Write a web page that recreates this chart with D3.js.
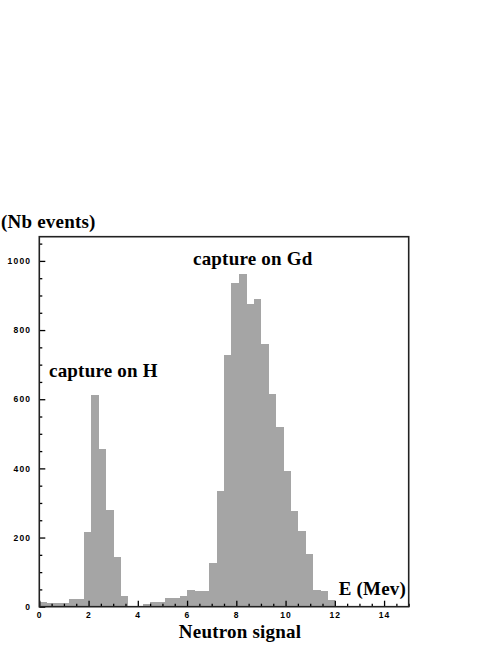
<!DOCTYPE html>
<html>
<head>
<meta charset="utf-8">
<script src="https://cdn.jsdelivr.net/npm/d3@7"></script>
<style>
  html, body { margin: 0; padding: 0; background: #fff; }
  svg { display: block; }
  .tick text { font-family: "Liberation Sans", Arial, sans-serif; font-weight: bold; font-size: 8.5px; letter-spacing: 1.2px; fill: #000; }
  .lbl { font-family: "Liberation Serif", "Times New Roman", serif; font-weight: bold; font-size: 19px; letter-spacing: 0.2px; fill: #000; }
</style>
</head>
<body>
<svg id="chart" width="498" height="645"></svg>
<script>
/* ── Data ─────────────────────────────────────────────────────────────── */
const BIN_WIDTH = 0.3;   // MeV per bin, bins start at 0
const counts = [
  15, 11, 11, 12, 21, 21, 216, 612, 456, 280,
  143, 31, 3, 0, 7, 14, 14, 24, 24, 31,
  48, 44, 46, 127, 335, 727, 937, 962, 875, 891,
  760, 614, 521, 393, 276, 218, 152, 48, 44, 19,
  0, 0, 0, 0, 0, 0, 0, 0, 0, 0
];
const xMajorTicks = [0, 2, 4, 6, 8, 10, 12, 14];
const yMajorTicks = [0, 200, 400, 600, 800, 1000];
const annotations = [
  { text: 'capture on Gd', x: 193, y: 265 },
  { text: 'capture on H',  x: 49,  y: 377 }
];

const GREY = '#a5a5a5';

/* ── Layout ───────────────────────────────────────────────────────────── */
const plot = { left: 39.3, right: 408.7, top: 236.7, bottom: 606.7 };

const svg = d3.select('#chart');

const x = d3.scaleLinear().domain([0, 15]).range([plot.left, plot.right]);
const y = d3.scaleLinear().domain([0, 1070]).range([plot.bottom, plot.top]);

const bins = counts.map((c, i) => ({ x0: i * BIN_WIDTH, x1: (i + 1) * BIN_WIDTH, count: c }));

// Histogram bars
svg.append('g')
  .attr('shape-rendering', 'crispEdges')
  .selectAll('rect')
  .data(bins.filter(b => b.count > 0))
  .join('rect')
    .attr('x', b => x(b.x0))
    .attr('y', b => y(b.count))
    .attr('width', b => x(b.x1) - x(b.x0) + 0.5)
    .attr('height', b => y(0) - y(b.count))
    .attr('fill', GREY);

// Minor ticks (inside)
const xMinor = d3.range(0, 15.01, 0.5).filter(v => !xMajorTicks.includes(v));
const yMinor = d3.range(0, 1070, 50).filter(v => !yMajorTicks.includes(v));

svg.append('g')
  .attr('transform', `translate(0,${plot.bottom})`)
  .call(d3.axisBottom(x).tickValues(xMinor).tickSize(-3).tickFormat(''))
  .call(g => g.select('.domain').remove());

svg.append('g')
  .attr('transform', `translate(${plot.left},0)`)
  .call(d3.axisLeft(y).tickValues(yMinor).tickSize(-3).tickFormat(''))
  .call(g => g.select('.domain').remove());

// Major ticks + labels
svg.append('g')
  .attr('transform', `translate(0,${plot.bottom})`)
  .call(d3.axisBottom(x).tickValues(xMajorTicks).tickSize(-6).tickPadding(5).tickFormat(d3.format('d')))
  .call(g => g.select('.domain').remove());

svg.append('g')
  .attr('transform', `translate(${plot.left},0)`)
  .call(d3.axisLeft(y).tickValues(yMajorTicks).tickSize(-6).tickPadding(8).tickFormat(d3.format('d')))
  .call(g => g.select('.domain').remove());

svg.selectAll('.tick line').attr('stroke', '#000').attr('stroke-width', 1.3);

// Frame
svg.append('rect')
  .attr('x', plot.left).attr('y', plot.top)
  .attr('width', plot.right - plot.left)
  .attr('height', plot.bottom - plot.top)
  .attr('fill', 'none')
  .attr('stroke', '#222')
  .attr('stroke-width', 1.6);

// Labels
svg.append('text').attr('class', 'lbl').attr('x', 1).attr('y', 228).text('(Nb events)');
svg.append('text').attr('class', 'lbl').attr('x', 406).attr('y', 595)
  .attr('text-anchor', 'end').text('E (Mev)');
svg.append('text').attr('class', 'lbl').attr('x', 240).attr('y', 638)
  .attr('text-anchor', 'middle').text('Neutron signal');

svg.selectAll('.annot')
  .data(annotations)
  .join('text')
    .attr('class', 'lbl annot')
    .attr('x', d => d.x)
    .attr('y', d => d.y)
    .text(d => d.text);
</script>
</body>
</html>
